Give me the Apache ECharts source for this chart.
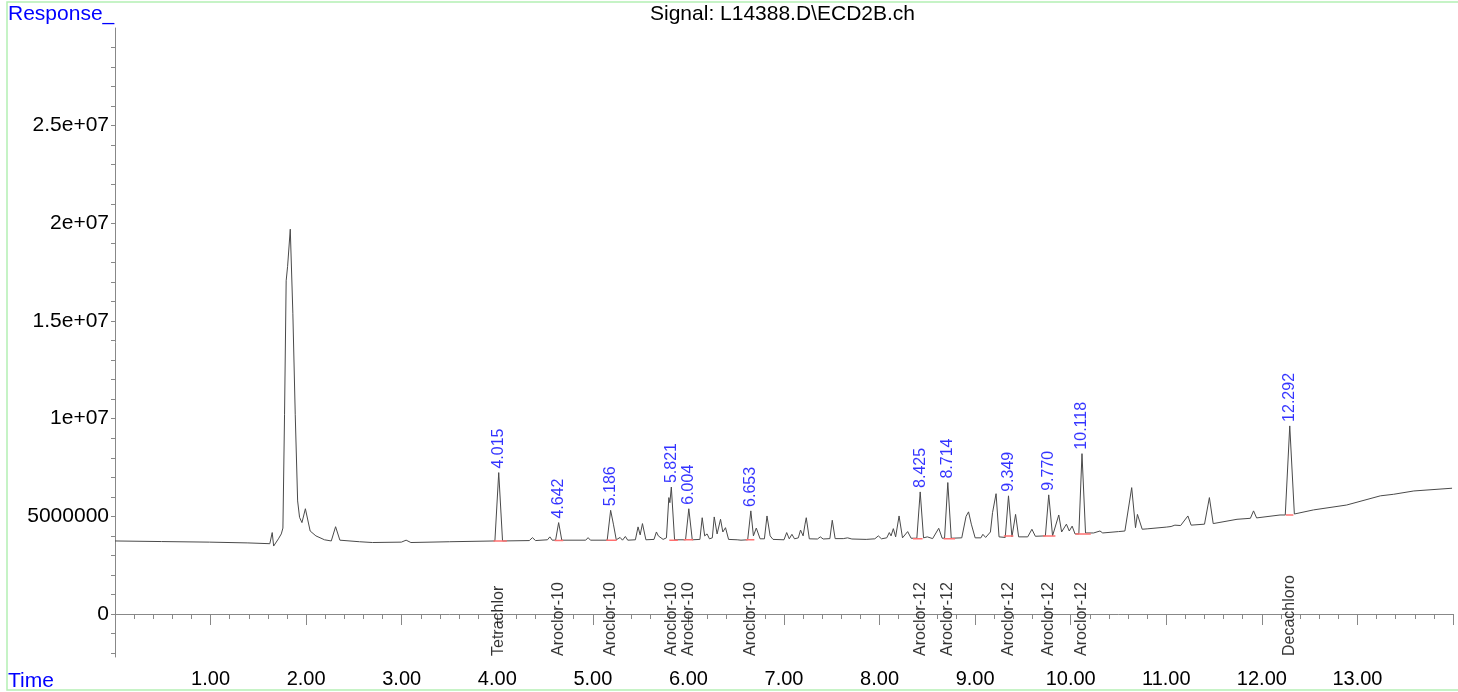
<!DOCTYPE html>
<html>
<head>
<meta charset="utf-8">
<script src="https://cdn.jsdelivr.net/npm/echarts@6/dist/echarts.min.js"></script>
<style>
html,body{margin:0;padding:0;background:#fff;}
#chart{width:1458px;height:692px;}
</style>
</head>
<body>
<div id="chart"></div>
<script>
// Trace: retention time (min) and response
const traceTime = [0.00,0.485,0.99,1.39,1.62,1.645,1.66,1.71,1.74,1.757,1.774,1.791,1.806,1.834,1.861,1.886,1.911,1.931,1.956,1.992,2.042,2.102,2.192,2.263,2.308,2.353,2.559,2.694,2.996,3.046,3.096,3.498,3.975,4.015,4.055,4.335,4.368,4.40,4.525,4.55,4.575,4.61,4.642,4.675,4.925,4.95,4.975,5.15,5.186,5.215,5.245,5.285,5.31,5.34,5.365,5.445,5.473,5.495,5.519,5.555,5.64,5.665,5.685,5.705,5.735,5.77,5.795,5.806,5.821,5.855,5.97,6.004,6.04,6.12,6.144,6.17,6.195,6.22,6.25,6.27,6.30,6.336,6.36,6.388,6.42,6.51,6.55,6.62,6.653,6.68,6.71,6.75,6.795,6.822,6.855,6.885,7.00,7.028,7.055,7.083,7.11,7.15,7.173,7.20,7.22,7.233,7.265,7.35,7.38,7.41,7.48,7.505,7.535,7.62,7.665,7.71,7.86,7.95,7.987,8.02,8.075,8.102,8.12,8.144,8.168,8.204,8.24,8.294,8.33,8.39,8.425,8.46,8.50,8.555,8.619,8.655,8.68,8.714,8.75,8.86,8.905,8.931,8.96,9.00,9.06,9.081,9.11,9.16,9.182,9.219,9.25,9.315,9.349,9.385,9.423,9.455,9.55,9.594,9.63,9.735,9.770,9.81,9.875,9.905,9.955,9.985,10.015,10.045,10.085,10.118,10.155,10.24,10.306,10.335,10.50,10.567,10.638,10.678,10.698,10.748,10.80,11.00,11.02,11.05,11.09,11.15,11.226,11.26,11.40,11.451,11.491,11.74,11.88,11.913,11.945,12.19,12.245,12.292,12.34,12.54,12.887,13.24,13.379,13.59,13.99];
const traceResp = [3.74e6,3.71e6,3.68e6,3.64e6,3.60e6,4.17e6,3.48e6,3.85e6,4.10e6,4.40e6,10.2e6,17.06e6,17.8e6,19.7e6,15.4e6,10.2e6,5.79e6,4.95e6,4.68e6,5.39e6,4.25e6,4.00e6,3.80e6,3.74e6,4.47e6,3.78e6,3.70e6,3.66e6,3.68e6,3.78e6,3.66e6,3.70e6,3.74e6,7.24e6,3.74e6,3.76e6,3.91e6,3.76e6,3.80e6,3.95e6,3.78e6,3.78e6,4.68e6,3.78e6,3.78e6,3.91e6,3.78e6,3.78e6,5.31e6,4.60e6,3.80e6,3.92e6,3.78e6,3.97e6,3.78e6,3.80e6,4.46e6,4.05e6,4.63e6,3.80e6,3.82e6,4.20e6,4.00e6,4.08e6,3.82e6,3.90e6,5.96e6,5.70e6,6.50e6,3.80e6,3.80e6,5.39e6,3.80e6,3.82e6,4.93e6,4.00e6,4.10e6,3.85e6,3.90e6,4.97e6,4.10e6,4.85e6,4.20e6,4.42e6,3.82e6,3.80e6,3.78e6,3.80e6,5.28e6,4.00e6,4.40e6,3.85e6,3.85e6,5.02e6,4.00e6,3.82e6,3.80e6,4.17e6,3.85e6,4.08e6,3.85e6,3.90e6,4.30e6,4.00e6,4.60e6,4.93e6,3.85e6,3.84e6,3.95e6,3.84e6,3.86e6,4.80e6,3.86e6,3.86e6,3.90e6,3.84e6,3.82e6,3.85e6,4.00e6,3.85e6,3.90e6,4.17e6,4.00e6,4.37e6,3.95e6,5.02e6,3.90e6,4.22e6,3.88e6,3.88e6,6.25e6,3.90e6,3.95e6,3.86e6,4.39e6,3.88e6,3.88e6,6.73e6,3.88e6,3.90e6,5.00e6,5.23e6,4.60e6,3.90e6,3.90e6,4.08e6,3.92e6,4.20e6,5.19e6,6.16e6,3.95e6,3.92e6,6.05e6,3.95e6,5.10e6,3.95e6,3.95e6,4.34e6,3.98e6,4.00e6,6.10e6,4.00e6,5.07e6,4.20e6,4.60e6,4.25e6,4.50e6,4.10e6,4.10e6,8.21e6,4.15e6,4.15e6,4.25e6,4.15e6,4.22e6,4.25e6,6.47e6,4.42e6,5.10e6,4.34e6,4.36e6,4.45e6,4.52e6,4.48e6,4.55e6,4.53e6,5.02e6,4.55e6,4.60e6,5.96e6,4.63e6,4.85e6,4.90e6,5.28e6,4.92e6,5.07e6,5.07e6,9.63e6,5.12e6,5.33e6,5.58e6,6.05e6,6.13e6,6.30e6,6.44e6];

// Identified peaks
const peakTimes = [4.015,4.642,5.186,5.821,6.004,6.653,8.425,8.714,9.349,9.770,10.118,12.292];
const peakHeights = [7.24e6,4.68e6,5.31e6,6.50e6,5.39e6,5.28e6,6.25e6,6.73e6,6.05e6,6.10e6,8.21e6,9.63e6];
const peakNames = ['Tetrachlor','Aroclor-10','Aroclor-10','Aroclor-10','Aroclor-10','Aroclor-10','Aroclor-12','Aroclor-12','Aroclor-12','Aroclor-12','Aroclor-12','Decachloro'];

// Integration baselines
const intStart = [3.96,4.60,5.14,5.80,5.95,6.60,8.35,8.67,9.30,9.71,10.05,12.25];
const intEnd   = [4.10,4.69,5.25,5.89,6.05,6.69,8.45,8.79,9.40,9.84,10.21,12.33];
const intLevel = [3.74e6,3.76e6,3.78e6,3.78e6,3.80e6,3.80e6,3.85e6,3.85e6,4.00e6,4.00e6,4.10e6,5.07e6];

// Axis ticks
const yLabelValues = [0,5e6,1e7,1.5e7,2e7,2.5e7];
const yLabelTexts  = ['0','5000000','1e+07','1.5e+07','2e+07','2.5e+07'];
const yTickValues  = [-2e6,-1e6,0,1e6,2e6,3e6,4e6,5e6,6e6,7e6,8e6,9e6,1e7,1.1e7,1.2e7,1.3e7,1.4e7,1.5e7,1.6e7,1.7e7,1.8e7,1.9e7,2e7,2.1e7,2.2e7,2.3e7,2.4e7,2.5e7,2.6e7,2.7e7,2.8e7,2.9e7];

const FONT = 'Liberation Sans, Arial, Helvetica, sans-serif';

const trace = traceTime.map((t,i)=>[t, traceResp[i]]);
const intData = [];
intStart.forEach((s,i)=>{ intData.push([s,intLevel[i]]); intData.push([intEnd[i],intLevel[i]]); intData.push('-'); });
const peakData = peakTimes.map((t,i)=>[t, peakHeights[i]]);
const yMin = -2.2e6, yMax = 3e7;
const nameData = peakTimes.map((t,i)=>({value:[t, yMin], name: peakNames[i]}));

const chart = echarts.init(document.getElementById('chart'), null, {renderer:'canvas'});
chart.setOption({
  animation: false,
  backgroundColor: '#fff',
  grid: {left:115, right:5, top:28, bottom:35, containLabel:false},
  graphic: [
    {type:'rect', shape:{x:7, y:2, width:1460, height:688}, style:{fill:'none', stroke:'#b4f0b4', lineWidth:1.5}, silent:true},
    {type:'text', left:8, top:4, style:{text:'Response_', fill:'#0000ff', font:'21px '+FONT}},
    {type:'text', left:8, top:671, style:{text:'Time', fill:'#0000ff', font:'21px '+FONT}},
    {type:'text', left:650, top:4, style:{text:'Signal: L14388.D\\ECD2B.ch', fill:'#000', font:'21px '+FONT}}
  ],
  xAxis: {
    type:'value', min:0, max:14, interval:1,
    axisLine:{show:true, lineStyle:{color:'#888', width:1}},
    axisTick:{show:true, length:11, lineStyle:{color:'#888'}},
    minorTick:{show:true, splitNumber:5, length:5, lineStyle:{color:'#888'}},
    splitLine:{show:false},
    axisLabel:{margin:12, color:'#000', fontSize:20, fontFamily:FONT,
      formatter:(v)=> (v<=0||v>=14) ? '' : v.toFixed(2)}
  },
  yAxis: {
    type:'value', min:yMin, max:yMax,
    axisLine:{show:true, lineStyle:{color:'#888', width:1}},
    axisTick:{show:true, length:4, customValues:yTickValues, lineStyle:{color:'#888'}},
    splitLine:{show:false},
    axisLabel:{margin:6, color:'#000', fontSize:21, fontFamily:FONT, customValues:yLabelValues,
      formatter:(v)=>{ const i = yLabelValues.indexOf(v); return i>=0 ? yLabelTexts[i] : ''; }}
  },
  series: [
    {type:'line', data:trace, symbol:'none', smooth:false, lineStyle:{color:'#4a4a4a', width:1}, z:2},
    {type:'line', data:intData, symbol:'none', connectNulls:false, lineStyle:{color:'#ff7070', width:1.5}, z:3},
    {type:'scatter', data:peakData, symbolSize:0, z:4,
      label:{show:true, position:'top', distance:4, rotate:90, align:'left', verticalAlign:'middle',
        color:'#0000ff', fontSize:16, fontFamily:FONT,
        formatter:(p)=> p.value[0].toFixed(3)}},
    {type:'scatter', data:nameData, symbolSize:0, z:4,
      label:{show:true, position:'top', distance:1, rotate:90, align:'left', verticalAlign:'middle',
        color:'#000', fontSize:16, fontFamily:FONT,
        formatter:(p)=> p.name}}
  ]
});
</script>
</body>
</html>
